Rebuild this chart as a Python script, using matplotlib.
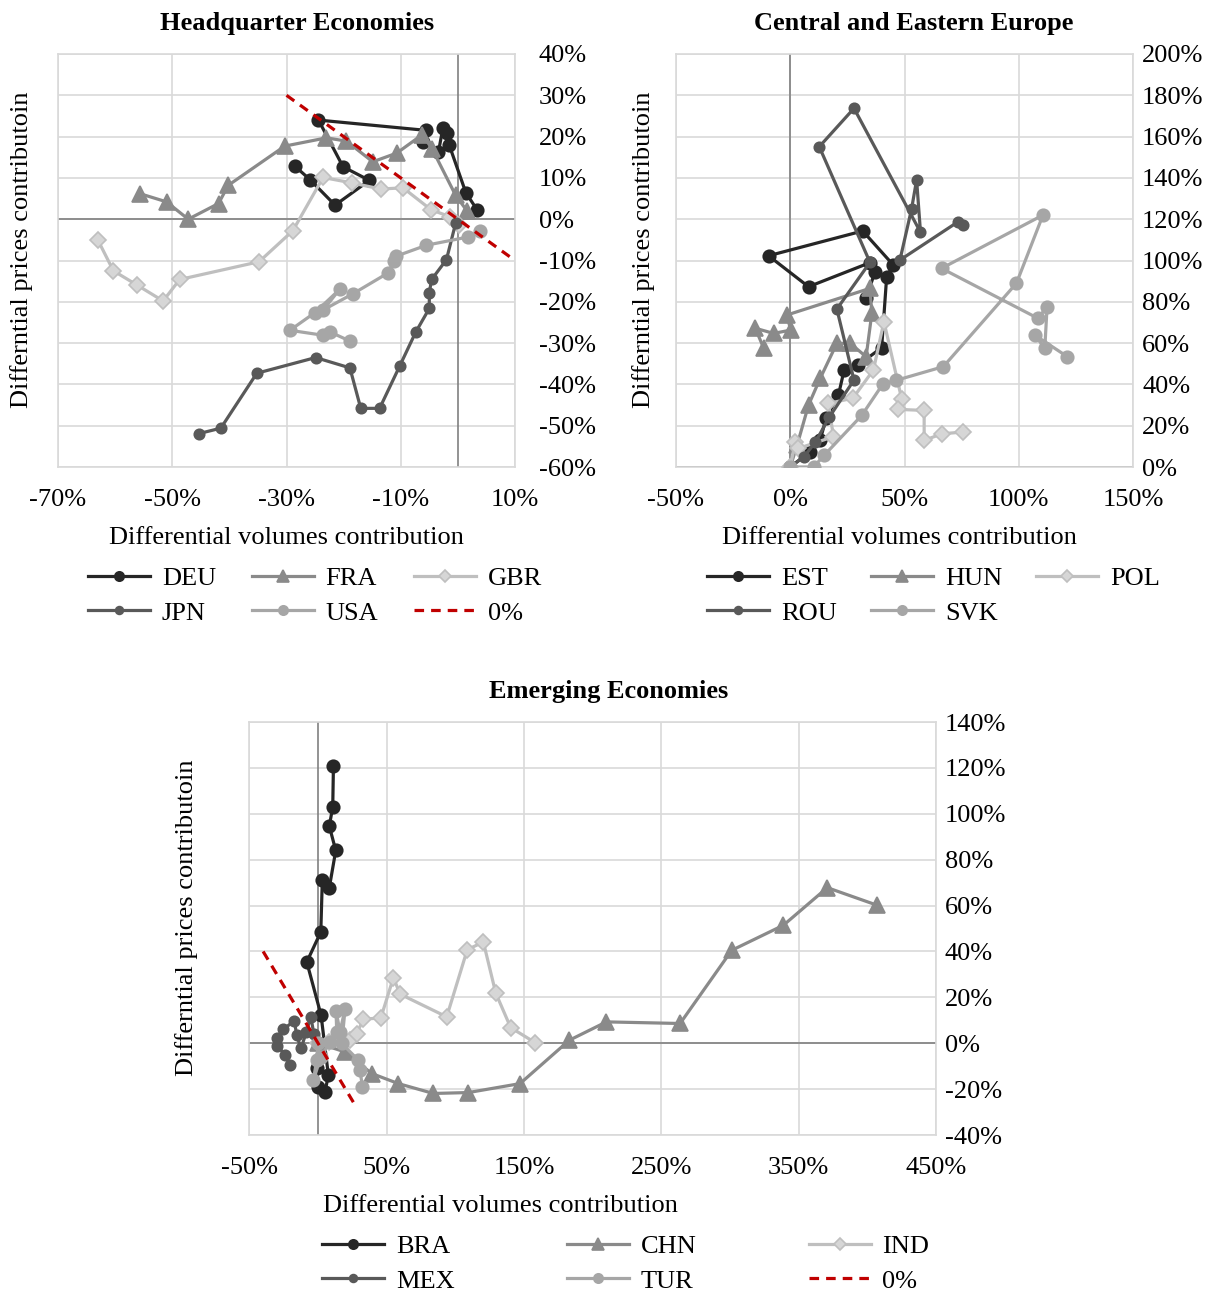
import matplotlib
matplotlib.use("Agg")
import matplotlib.pyplot as plt
from matplotlib.ticker import FixedLocator, FuncFormatter

plt.rcParams['font.family'] = ['Liberation Serif', 'DejaVu Serif']
plt.rcParams['font.size'] = 19

# ---- Headquarter Economies (values in %) ----
DEU_x = [-28.5, -25.9, -21.5, -15.5, -20.1, -24.4, -5.5, -6.1, -3.4, -2.6, -1.9, -1.5, 1.4, 3.4]
DEU_y = [12.8, 9.6, 3.4, 9.4, 12.7, 24.0, 21.5, 18.7, 16.3, 22.2, 20.9, 17.9, 6.4, 2.2]
FRA_x = [-55.7, -51.0, -47.2, -41.9, -40.2, -30.3, -23.0, -19.5, -14.9, -10.7, -6.2, -4.5, -0.4, 1.6]
FRA_y = [6.2, 4.2, 0.0, 3.8, 8.2, 17.7, 19.7, 18.9, 13.9, 16.0, 20.5, 17.0, 5.8, 2.0]
GBR_x = [-63.0, -60.3, -56.1, -51.6, -48.7, -34.8, -28.9, -23.6, -18.6, -13.5, -9.6, -4.7, -1.4, 0.2]
GBR_y = [-5.1, -12.5, -16.0, -19.8, -14.6, -10.3, -2.8, 10.1, 8.8, 7.3, 7.6, 2.3, 0.6, -1.5]
JPN_x = [-45.3, -41.5, -35.2, -24.9, -18.9, -17.0, -13.7, -10.2, -7.4, -5.0, -5.0, -4.6, -2.0, -0.4]
JPN_y = [-51.9, -50.6, -37.3, -33.5, -36.0, -45.8, -45.8, -35.6, -27.4, -21.6, -17.8, -14.6, -9.8, -1.0]
USA_x = [3.9, 1.8, -5.5, -10.9, -11.2, -12.2, -18.3, -23.6, -20.7, -25.0, -29.4, -23.6, -22.4, -18.9]
USA_y = [-2.8, -4.3, -6.3, -9.0, -10.0, -13.0, -18.0, -22.0, -17.0, -22.6, -26.9, -28.1, -27.3, -29.5]
ZERO_HQ_x = [-30, 10]
ZERO_HQ_y = [30, -10]

# ---- Central and Eastern Europe ----
EST_x = [0, 8.7, 13.1, 15.7, 21.1, 23.6, 29.8, 40.0, 42.2, 45.1, 31.7, -9.5, 8.0, 35.0, 37.1, 33.2]
EST_y = [0, 7.4, 13.1, 23.6, 34.9, 47.0, 49.4, 57.8, 92.2, 97.8, 114.3, 102.3, 87.3, 99.0, 94.6, 81.7]
HUN_x = [0, 3.0, 8.0, 13.1, 20.4, 26.2, 33.2, 35.7, 34.9, -1.5, 0.2, -7.3, -15.3, -11.6]
HUN_y = [0, 10.6, 30.0, 42.9, 59.9, 59.9, 53.4, 74.4, 86.5, 73.6, 66.3, 64.7, 67.2, 57.5]
POL_x = [0, 2.2, 3.6, 18.9, 16.7, 27.4, 36.4, 41.0, 48.8, 47.3, 58.6, 58.6, 66.4, 75.5]
POL_y = [0, 12.3, 9.0, 14.7, 30.8, 33.3, 47.0, 70.4, 32.8, 27.9, 27.4, 12.9, 16.1, 16.9]
ROU_x = [0, 6.0, 11.0, 17.0, 27.9, 20.4, 34.9, 12.7, 27.9, 57.0, 55.3, 53.1, 48.0, 73.5, 75.7]
ROU_y = [0, 5.0, 12.0, 24.0, 42.1, 76.5, 99.1, 155.1, 173.7, 113.7, 139.0, 125.0, 100.2, 118.8, 117.2]
SVK_x = [0, 10.2, 14.8, 31.3, 40.6, 46.1, 67.0, 99.0, 110.6, 66.2, 108.4, 112.4, 111.4, 107.0, 121.3]
SVK_y = [0, 0.0, 5.6, 25.0, 40.3, 41.9, 48.6, 89.0, 122.0, 96.2, 72.0, 77.6, 57.5, 63.9, 53.4]

# ---- Emerging Economies ----
BRA_x = [0, -1.0, 0.2, 5.1, 7.5, 2.2, -8.2, 2.0, 3.1, 8.2, 12.9, 8.2, 10.7, 11.2]
BRA_y = [0, -11.0, -19.0, -21.2, -13.9, 12.2, 35.4, 48.5, 71.0, 67.8, 84.0, 94.6, 103.0, 120.7]
CHN_x = [0, 19.7, 39.1, 58.5, 84.0, 109.5, 147.1, 183.0, 210.0, 263.7, 301.3, 338.9, 370.9, 407.4]
CHN_y = [0, -3.8, -13.2, -17.6, -21.9, -21.5, -17.6, 1.3, 9.3, 8.6, 40.5, 51.4, 67.8, 60.1]
IND_x = [0, 8.0, 23.3, 28.2, 33.0, 45.7, 54.9, 59.7, 93.7, 108.7, 120.4, 129.4, 140.3, 158.0]
IND_y = [0, 0.5, 1.3, 4.2, 10.5, 11.0, 28.6, 21.4, 11.5, 40.8, 44.1, 21.9, 6.8, 0.3]
MEX_x = [0, -3.0, -5.3, -8.5, -12.4, -15.5, -17.3, -25.3, -30.1, -29.6, -24.0, -20.4]
MEX_y = [0, 4.0, 11.5, 5.0, -2.3, 3.5, 9.7, 6.1, 2.3, -1.2, -5.0, -9.6]
TUR_x = [0, -1.0, -3.4, 2.0, 8.7, 13.6, 13.1, 16.0, 19.7, 17.3, 29.4, 30.6, 32.3]
TUR_y = [0, -7.4, -16.1, -6.0, 0.6, 4.9, 14.1, 5.0, 15.1, -0.1, -7.4, -11.8, -19.0]
ZERO_EM_x = [-40, 28]
ZERO_EM_y = [40, -28]

# series styles (same grey ramp in every panel)
STYLE = [
    dict(color='#262626', marker='o', ms=9, mfc='#262626', mec='#262626'),
    dict(color='#8a8a8a', marker='^', ms=11, mfc='#8a8a8a', mec='#8a8a8a'),
    dict(color='#bfbfbf', marker='D', ms=8.5, mfc='#d6d6d6', mec='#bfbfbf'),
    dict(color='#595959', marker='o', ms=7.5, mfc='#595959', mec='#595959'),
    dict(color='#a6a6a6', marker='o', ms=9, mfc='#a6a6a6', mec='#a6a6a6'),
]

W, H = 1224, 1291


def px_axes(fig, left, top, right, bottom):
    return fig.add_axes([left / W, 1 - bottom / H, (right - left) / W, (bottom - top) / H])


def pct(v, pos):
    return f'{v:.0f}%'


def setup(ax, xlim, ylim, xticks, yticks, ypad, title, title_x, xlabel_x, ylabel_x):
    ax.set_xlim(*xlim)
    ax.set_ylim(*ylim)
    ax.xaxis.set_major_locator(FixedLocator(xticks))
    ax.yaxis.set_major_locator(FixedLocator(yticks))
    ax.xaxis.set_major_formatter(FuncFormatter(pct))
    ax.yaxis.set_major_formatter(FuncFormatter(pct))
    ax.yaxis.tick_right()
    ax.tick_params(axis='both', length=0)
    ax.tick_params(axis='x', pad=16)
    ax.tick_params(axis='y', pad=ypad)
    ax.grid(True, color='#d9d9d9', lw=1.2, zorder=0)
    for s in ax.spines.values():
        s.set_color('#d9d9d9')
        s.set_linewidth(1.2)
    ax.axhline(0, color='#808080', lw=1.2, zorder=1)
    ax.axvline(0, color='#808080', lw=1.2, zorder=1)
    ax.set_axisbelow(True)
    ax.text(title_x, 1.073, title, transform=ax.transAxes, ha='center', va='center',
            fontweight='bold')
    ax.set_xlabel('Differential volumes contribution')
    ax.xaxis.set_label_coords(xlabel_x, -0.172)
    ax.xaxis.label.set_va('center')
    ax.set_ylabel('Differntial prices contributoin')
    ax.yaxis.set_label_position('left')
    ax.yaxis.set_label_coords(ylabel_x, 0.525)
    ax.yaxis.label.set_va('center')


def draw(ax, series):
    handles = []
    for i, (name, xs, ys) in enumerate(series):
        st = STYLE[i]
        h, = ax.plot(xs, ys, color=st['color'], lw=2.3, marker=st['marker'],
                     ms=st['ms'], mfc=st['mfc'], mec=st['mec'], mew=1.2,
                     label=name, zorder=3 + i)
        handles.append(h)
    return handles


def legend(ax, handles, left_px, top_px, colspace):
    n = len(handles)
    # matplotlib fills columns first; reorder so rows read like the original
    order = [0, 3, 1, 4, 2, 5] if n == 6 else [0, 3, 1, 4, 2]
    hs = [handles[k] for k in order]
    ax.legend(handles=hs, labels=[h.get_label() for h in hs], ncol=3,
              loc='upper left', bbox_to_anchor=(left_px / W, 1 - top_px / H),
              bbox_transform=ax.figure.transFigure, frameon=False,
              handlelength=2.35, handletextpad=0.45, columnspacing=colspace,
              labelspacing=0.4, borderpad=0, borderaxespad=0, markerscale=0.75)


fig = plt.figure(figsize=(W / 100, H / 100), dpi=100)

# Headquarter Economies
ax1 = px_axes(fig, 58, 54, 515, 467)
setup(ax1, (-70, 10), (-60, 40), [-70, -50, -30, -10, 10], list(range(-60, 41, 10)),
      17, 'Headquarter Economies', 0.523, 0.5, -0.079)
h1 = draw(ax1, [('DEU', DEU_x, DEU_y), ('FRA', FRA_x, FRA_y), ('GBR', GBR_x, GBR_y),
                ('JPN', JPN_x, JPN_y), ('USA', USA_x, USA_y)])
z1, = ax1.plot(ZERO_HQ_x, ZERO_HQ_y, color='#c00000', lw=2.3, ls=(0, (3, 2.2)),
               label='0%', zorder=10)
legend(ax1, h1 + [z1], 88, 567, 1.35)

# Central and Eastern Europe
ax2 = px_axes(fig, 676, 54, 1133, 467)
setup(ax2, (-50, 150), (0, 200), [-50, 0, 50, 100, 150], list(range(0, 201, 20)),
      6.5, 'Central and Eastern Europe', 0.52, 0.49, -0.072)
h2 = draw(ax2, [('EST', EST_x, EST_y), ('HUN', HUN_x, HUN_y), ('POL', POL_x, POL_y),
                ('ROU', ROU_x, ROU_y), ('SVK', SVK_x, SVK_y)])
legend(ax2, h2, 707, 567, 1.3)

# Emerging Economies
ax3 = px_axes(fig, 249.4, 722, 935.9, 1135)
setup(ax3, (-50, 450), (-40, 140), [-50, 50, 150, 250, 350, 450], list(range(-40, 141, 20)),
      6.5, 'Emerging Economies', 0.523, 0.366, -0.091)
h3 = draw(ax3, [('BRA', BRA_x, BRA_y), ('CHN', CHN_x, CHN_y), ('IND', IND_x, IND_y),
                ('MEX', MEX_x, MEX_y), ('TUR', TUR_x, TUR_y)])
z3, = ax3.plot(ZERO_EM_x, ZERO_EM_y, color='#c00000', lw=2.3, ls=(0, (3, 2.2)),
               label='0%', zorder=10)
legend(ax3, h3 + [z3], 322, 1235, 4.25)

fig.savefig('out.png', dpi=100)
